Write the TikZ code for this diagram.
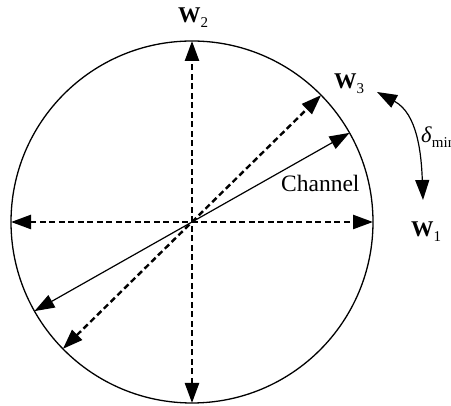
\documentclass[tikz,border=0pt]{standalone}
\usepackage{fontspec}
\setmainfont{Liberation Serif}
\usetikzlibrary{arrows.meta}
\tikzstyle{tip} = [{Triangle[length=20pt,width=14pt]}-{Triangle[length=20pt,width=14pt]}]
\tikzstyle{dir} = [tip, line width=2.4pt, dash pattern=on 6pt off 3.5pt]
\tikzstyle{chan} = [tip, line width=1.2pt]
\tikzstyle{lab} = [inner sep=0pt, anchor=base west, font=\fontsize{22.5}{26}\selectfont]
\newcommand{\wvec}[1]{\textbf{W}\raisebox{-0.45ex}{\fontsize{15}{17}\selectfont #1}}

\begin{document}
\begin{tikzpicture}[x=1pt, y=1pt]
        \useasboundingbox (0,0) rectangle (451,406);
        % Circle
        \coordinate (o) at (192,184);
        \draw[line width=1.3pt] (o) circle (181);
        \coordinate (e) at ([shift={(0:181)}]o);
        \coordinate (n) at ([shift={(90:181)}]o);
        \coordinate (w) at ([shift={(180:181)}]o);
        \coordinate (s) at ([shift={(270:181)}]o);
        \coordinate (ne) at ([shift={(44.5:181)}]o);
        \coordinate (sw) at ([shift={(224.5:181)}]o);
        \coordinate (c1) at ([shift={(29.5:181)}]o);
        \coordinate (c2) at ([shift={(209.5:181)}]o);
        \coordinate (d1) at (377,314);
        \coordinate (d2) at (423,206);

        % Labels
        \node[lab] (w2) at (178,383) {\wvec{2}};
        \node[lab] (w3) at (334,317) {\wvec{3}};
        \node[lab] (w1) at (411,169) {\wvec{1}};
        \node[lab] (dmin) at (421,263) {\textit{δ}\raisebox{-0.45ex}{\fontsize{15}{17}\selectfont min}};
        \node[lab, font=\fontsize{23.5}{28}\selectfont] (chan) at (281,214) {Channel};

        % Connections
        \draw[dir] (w) -- (e);
        \draw[dir] (s) -- (n);
        \draw[dir] (sw) -- (ne);
        \draw[chan] (c2) -- (c1);
        \draw[chan] (d1) to[out=-28, in=92] (d2);
\end{tikzpicture}
\end{document}
